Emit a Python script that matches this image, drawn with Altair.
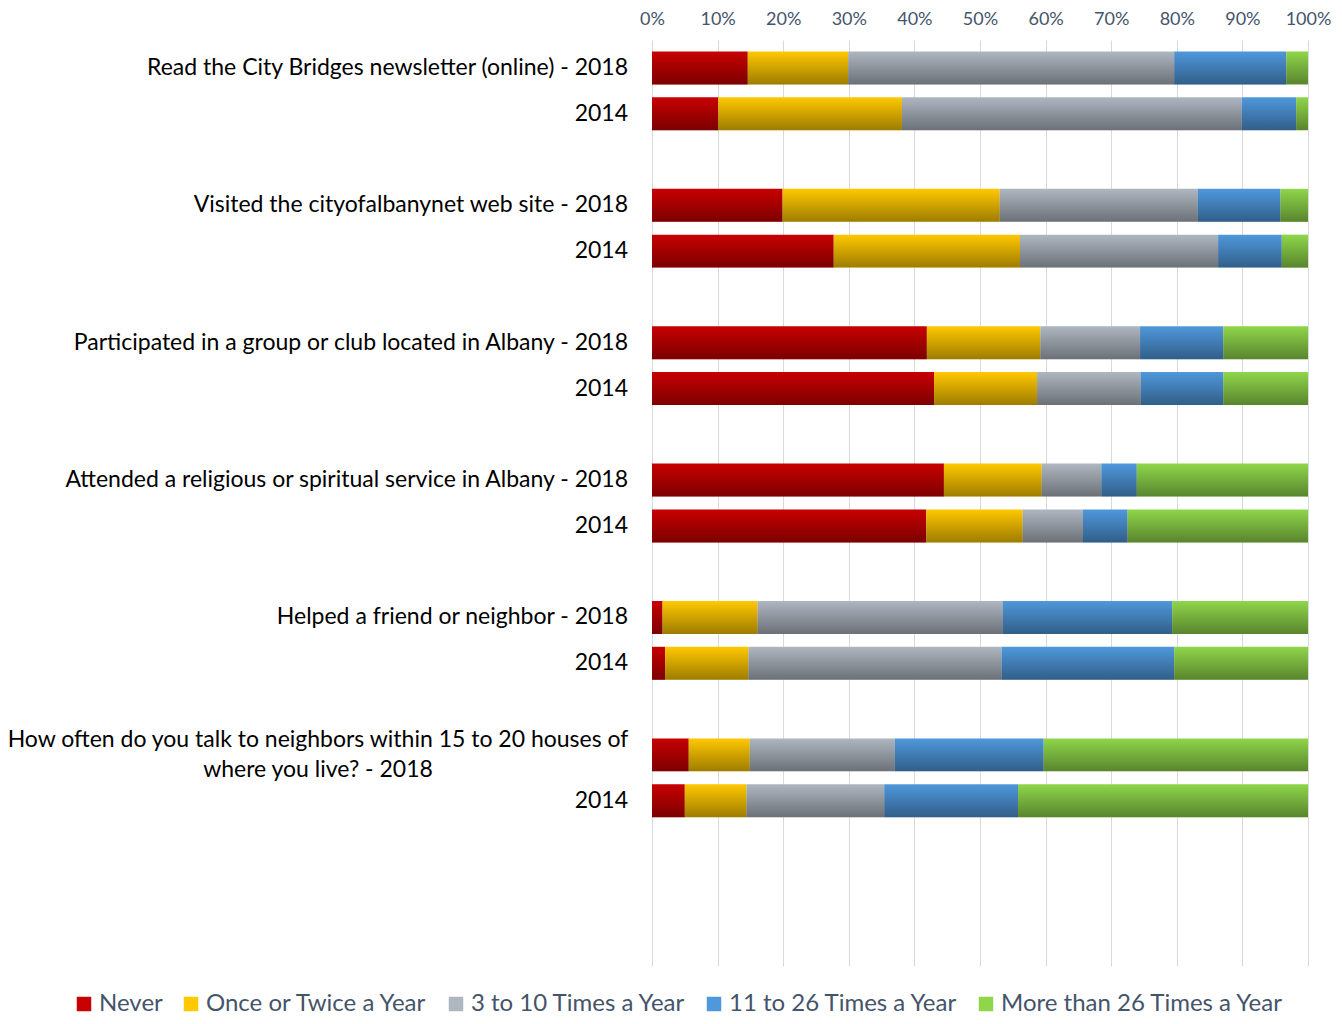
import altair as alt
import pandas as pd

questions = [
    "Read the City Bridges newsletter (online)",
    "Visited the cityofalbanynet web site",
    "Participated in a group or club located in Albany",
    "Attended a religious or spiritual service in Albany",
    "Helped a friend or neighbor",
    "How often do you talk to neighbors within 15 to 20 houses of\nwhere you live?",
]
years = ["2018", "2014"]
categories = ["Never", "Once or Twice a Year", "3 to 10 Times a Year",
              "11 to 26 Times a Year", "More than 26 Times a Year"]
colors = ["#C80000", "#FFC800", "#AEB6C0", "#4F98DC", "#8FD64A"]

# values per row: question order, 2018 then 2014
never = [14.6, 10.1, 19.9, 27.7, 41.9, 43.0, 44.5, 41.8, 1.6, 2.0, 5.6, 5.0]
once = [15.3, 28.0, 33.1, 28.4, 17.3, 15.7, 14.9, 14.7, 14.5, 12.7, 9.3, 9.4]
three_ten = [49.7, 51.8, 30.2, 30.2, 15.2, 15.8, 9.1, 9.2, 37.4, 38.6, 22.1, 21.0]
eleven_26 = [17.1, 8.3, 12.6, 9.7, 12.7, 12.6, 5.4, 6.8, 25.8, 26.3, 22.7, 20.4]
more_26 = [3.3, 1.8, 4.2, 4.0, 12.9, 12.9, 26.1, 27.5, 20.7, 20.4, 40.3, 44.2]
series = [never, once, three_ten, eleven_26, more_26]

n_slots = 20
slot_names = [f"s{i:02d}" for i in range(n_slots)]

rows = []
labels = []
for qi, q in enumerate(questions):
    for yi, y in enumerate(years):
        r = qi * 2 + yi
        slot = slot_names[qi * 3 + yi]
        for ci, c in enumerate(categories):
            rows.append({"slot": slot, "cat": c, "order": ci, "value": series[ci][r]})
        text = f"{q} - {y}" if yi == 0 else y
        labels.append({"slot": slot, "text": text, "multi": "\n" in text})

df = pd.DataFrame(rows)
lab = pd.DataFrame(labels)

yscale = alt.Scale(domain=slot_names, paddingInner=0.28, paddingOuter=0.25)
xscale = alt.Scale(domain=[0, 100])

base = alt.Chart(df)

bars = base.mark_bar().encode(
    x=alt.X("value:Q", stack="zero", scale=xscale,
            axis=alt.Axis(orient="top", values=list(range(0, 101, 10)),
                          labelExpr="datum.value + '%'", title=None,
                          domain=False, ticks=False, grid=True,
                          gridColor="#D9D9D9", labelFontSize=18,
                          labelColor="#44546A", labelFont="Lato",
                          labelFlush=False, labelOverlap=False,
                          labelPadding=12)),
    y=alt.Y("slot:N", scale=yscale, axis=None),
    color=alt.Color("cat:N", scale=alt.Scale(domain=categories, range=colors),
                    legend=alt.Legend(title=None, orient="none", direction="horizontal",
                                      columns=5, legendX=-580, legendY=952,
                                      symbolType="square", symbolSize=210,
                                      symbolStrokeWidth=0,
                                      labelFontSize=24, labelColor="#44546A",
                                      labelFont="Lato", columnPadding=16,
                                      labelOffset=3, labelLimit=400)),
    order=alt.Order("order:Q"),
)

shade = base.mark_bar(
    color=alt.LinearGradient(
        gradient="linear", x1=0, y1=0, x2=0, y2=1,
        stops=[alt.GradientStop(offset=0, color="rgba(0,0,0,0)"),
               alt.GradientStop(offset=1, color="rgba(0,0,0,0.38)")])
).encode(
    x=alt.X("value:Q", stack="zero", scale=xscale),
    y=alt.Y("slot:N", scale=yscale),
    detail="cat:N",
    order=alt.Order("order:Q"),
)

single = alt.Chart(lab).transform_filter("!datum.multi").mark_text(
    align="right", baseline="middle", fontSize=23, font="Lato", color="#000000"
).encode(
    y=alt.Y("slot:N", scale=yscale),
    x=alt.value(-24),
    text="text:N",
)

multi = alt.Chart(lab).transform_filter("datum.multi").mark_text(
    align="center", baseline="middle", fontSize=23, font="Lato", color="#000000",
    lineBreak="\n", lineHeight=30, dy=-15
).encode(
    y=alt.Y("slot:N", scale=yscale),
    x=alt.value(-334),
    text="text:N",
)

chart = alt.layer(bars, shade, single, multi).properties(
    width=656, height=926,
    autosize=alt.AutoSizeParams(type="none"),
    padding={"left": 644, "top": 32, "right": 26, "bottom": 50},
).configure_view(stroke=None)

chart.save("out.html", embed_options={"renderer": "svg", "actions": False})
